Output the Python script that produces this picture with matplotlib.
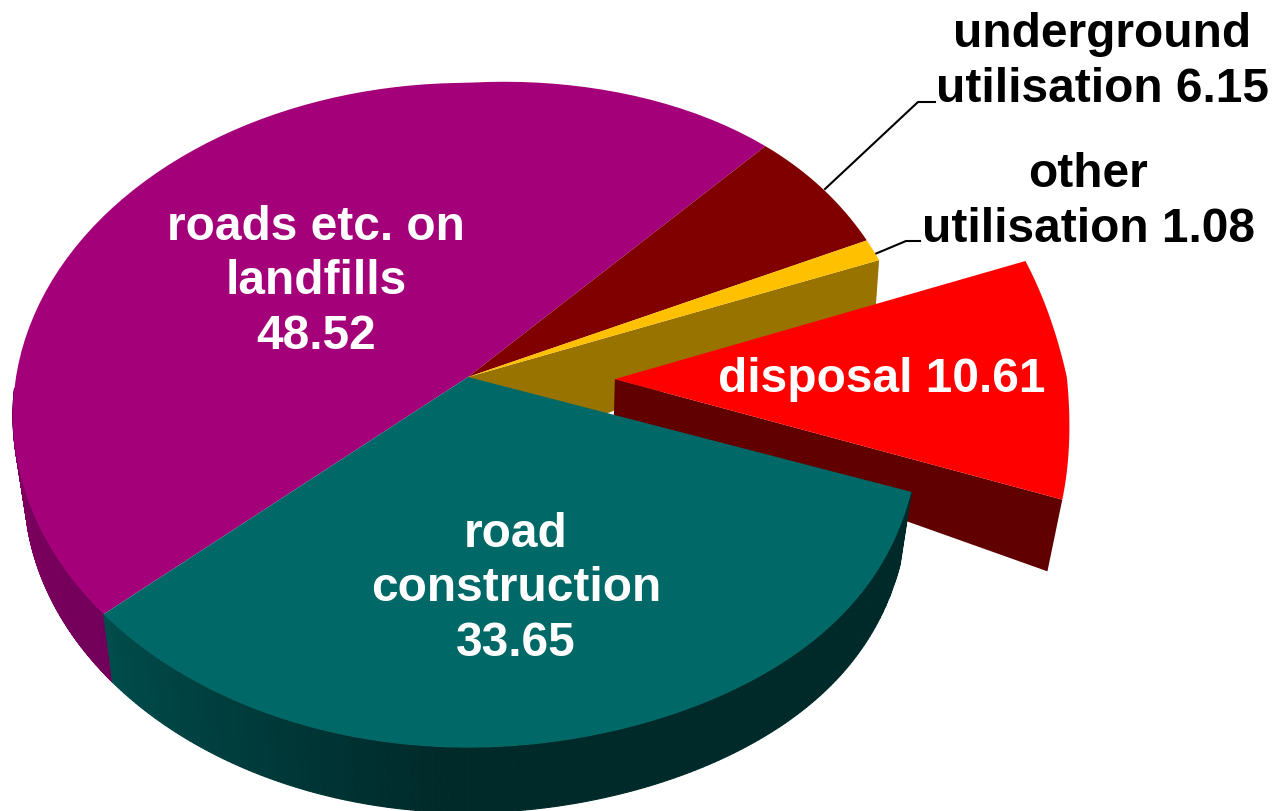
import numpy as np
import matplotlib
matplotlib.use("Agg")
import matplotlib.pyplot as plt

# clockwise from the purple / teal boundary
slice_names = ["roads etc. on\nlandfills\n48.52", "underground\nutilisation 6.15",
               "other\nutilisation 1.08", "disposal 10.61", "road\nconstruction\n33.65"]
slice_values = [48.52, 6.15, 1.08, 10.61, 33.65]
top_colors = ["#a4007a", "#800000", "#ffc000", "#ff0000", "#006866"]

START_ANGLE = 228.1
CX, CY = 468, 378
A, K, P = 452, 328, 0.115
EXPLODE = 0.325
EXPLODE_V = 0.018
SHRINK = 0.975


def project(u, v):
    u = np.asarray(u, dtype=float)
    v = np.asarray(v, dtype=float)
    w = 1 - P * v
    x = CX + A * u / w
    y = CY + K * v / w
    # the picture is not a clean perspective, right half is pulled a bit
    uc = np.clip(u, 0, None)
    vp = np.clip(v, 0, 1)
    vm = np.clip(-v, 0, None)
    x = x + 58 * uc ** 2 * vm ** 2 - 20 * uc * vp * (1 - vp)
    y = y - 24 * uc * vm ** 2 + 80 * uc * vp * (1 - vp)
    return x, y


def rim(t, r=1.0, ou=0.0, ov=0.0):
    t = np.radians(t)
    return project(ou + r * np.sin(t), ov - r * np.cos(t))


def drop(x, y, v):
    # bottom edge of the pie, depth changes with distance to the viewer
    d = np.interp(v, [-0.4, 0.25, 1.0], [40, 72, 65])
    return CX + (x - CX) * SHRINK, y + d


def arc_points(t0, t1, ou=0.0, ov=0.0):
    ts = np.linspace(t0, t1, 80)
    x, y = rim(ts, 1.0, ou, ov)
    return x, y, ts


def side(ax, t0, t1, tstops, colors, zorder):
    ts = np.linspace(t0, t1, 220)
    x, y = rim(ts)
    xb, yb = drop(x, y, -np.cos(np.radians(ts)))
    rgb = np.array([matplotlib.colors.to_rgb(c) for c in colors])
    for i in range(len(ts) - 1):
        c = [np.interp(ts[i], tstops, rgb[:, k]) for k in range(3)]
        ax.fill([x[i], x[i + 1], xb[i + 1], xb[i]], [y[i], y[i + 1], yb[i + 1], yb[i]],
                color=c, lw=0.8, zorder=zorder)


fig = plt.figure(figsize=(12.75, 8.12), dpi=100)
ax = fig.add_axes([0, 0, 1, 1])
ax.set_xlim(0, 1275)
ax.set_ylim(812, 0)
ax.axis("off")

plt.rcParams["font.family"] = ["Liberation Sans", "DejaVu Sans"]

edges = START_ANGLE + np.cumsum([0] + slice_values) / sum(slice_values) * 360
t_purple = edges[:2]
t_dark = edges[1:3]
t_orange = edges[2:4]
t_red = edges[3:5]
t_teal = edges[4:6]

# purple and teal outer wall
side(ax, t_purple[0], 268, [t_purple[0], 268], ["#72005a", "#80005f"], 1)
side(ax, t_teal[0] - 360, t_teal[1] - 360,
     [t_teal[0] - 360, 183, 199, t_teal[1] - 360],
     ["#002a2a", "#002a2a", "#003636", "#004c4c"], 5)

# cut wall of the orange slice, seen through the gap
gx, gy = rim(t_orange[1])
gxb, gyb = drop(gx, gy, -np.cos(np.radians(t_orange[1])))
ax.fill([CX, gx, gxb + 7, CX], [CY, gy, gyb + 4, CY + 92], color="#997300", lw=0, zorder=2)

# main top faces
for t_range, color, z in [(t_purple, top_colors[0], 3), (t_dark, top_colors[1], 3),
                          (t_orange, top_colors[2], 3)]:
    x, y, _ = arc_points(t_range[0], t_range[1])
    ax.fill(np.r_[CX, x], np.r_[CY, y], color=color, lw=0, zorder=z)

# exploded slice
mid = np.radians(np.mean(t_red) % 360)
ou, ov = EXPLODE * np.sin(mid), -EXPLODE * np.cos(mid) + EXPLODE_V
ax_, ay_ = project(ou, ov)
x, y, _ = arc_points(t_red[0], t_red[1], ou, ov)
ex, ey = x[-1], y[-1]
exb, eyb = drop(ex, ey, 0.28)
ax.fill([ax_, ex, exb, ax_ - 1], [ay_, ey, eyb, ay_ + 38], color="#600000", lw=0, zorder=4)
ax.fill(np.r_[ax_, x], np.r_[ay_, y], color=top_colors[3], lw=0, zorder=4)

# teal goes over the exploded slice wall
x, y, _ = arc_points(t_teal[0], t_teal[1])
ax.fill(np.r_[CX, x], np.r_[CY, y], color=top_colors[4], lw=0, zorder=6)

# leader lines
ax.plot([825, 918, 935], [190, 103, 103], color="black", lw=1.5, zorder=2)
ax.plot([875, 906, 920], [255, 242, 242], color="black", lw=1.5, zorder=2)

style = dict(fontsize=34.5, fontweight="bold", ha="center", va="center", linespacing=1.28, zorder=8)
ax.text(316, 282, slice_names[0], color="white", **style)
ax.text(1102, 62, slice_names[1], color="black", **style)
ax.text(1088, 202, slice_names[2], color="black", **style)
ax.text(882, 380, slice_names[3], color="white", **style)
ax.text(516, 589, slice_names[4], color="white", **style)

fig.savefig("out.png", dpi=100)
